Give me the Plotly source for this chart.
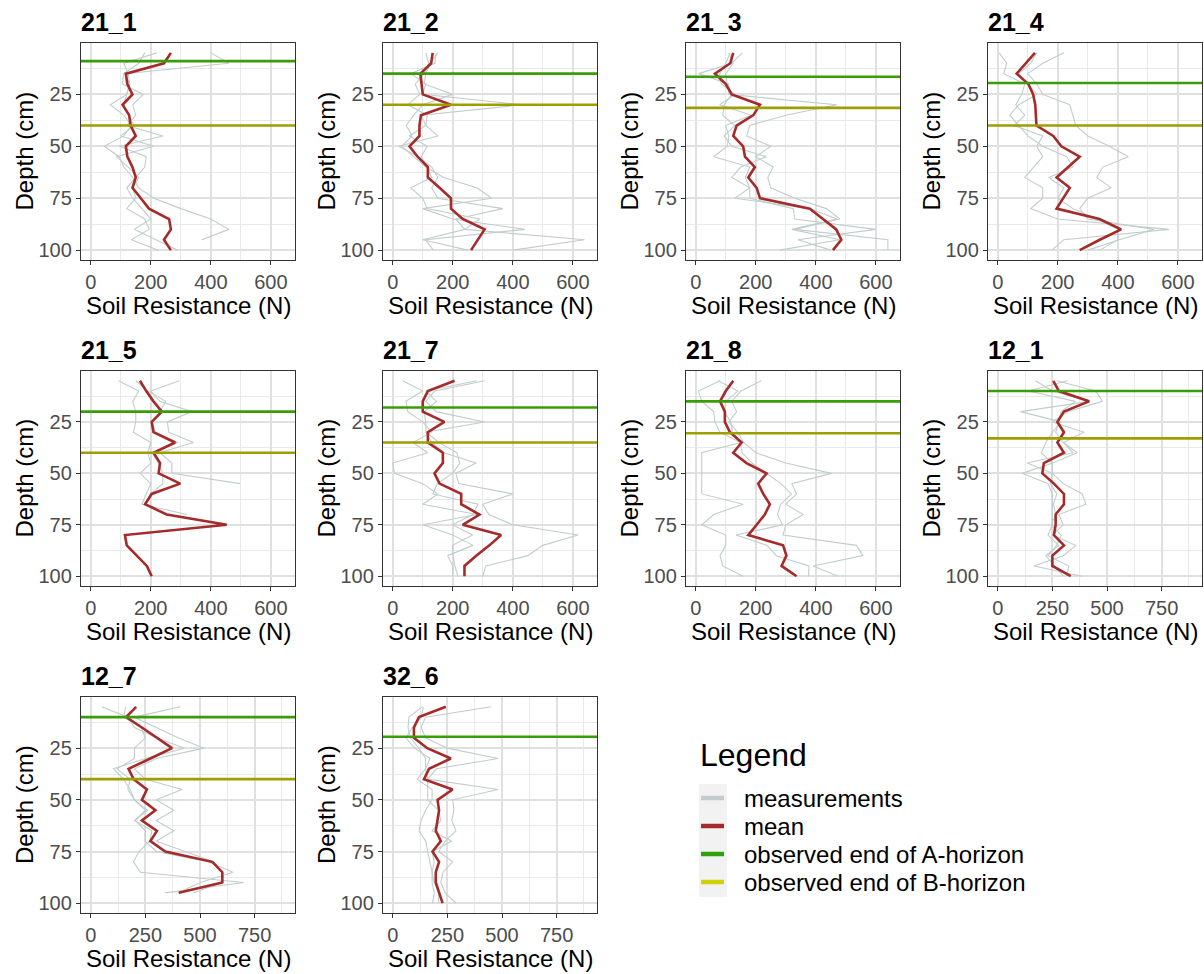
import plotly.graph_objects as go

# ---------------------------------------------------------------- data
DEPTH = [5, 10, 15, 20, 25, 30, 35, 40, 45, 50, 55, 60, 65, 70, 75, 80, 85, 90, 95, 100]

SITES = ["21_1", "21_2", "21_3", "21_4", "21_5", "21_7", "21_8", "12_1", "12_7", "32_6"]

# depth (cm) of the observed end of the A and B horizon per site
A_END = [9, 15, 16.5, 19.5, 20, 18, 15, 10, 10, 19.5]
B_END = [40, 30, 31.5, 40, 40, 35, 30.5, 33, 40, None]

# soil resistance (N) per depth step, single penetrometer runs and their mean
s21_1_runs = [
    [180, 160, 110, 105, 175, 140, 150, 120, 240, 95, 185, 180, 150, 120, 140, 170, 200, 145, 220, 290],
    [400, 460, 115, 130, 120, 65, 110, 135, 110, 45, 95, 110, 140, 160, 210, 300, 400, 460, 370],
    [220, 110, 125, 130, 120, 110, 125, 145, 100, 210, 85, 125, 160, 140, 150, 120, 180, 195, 135, 225],
]
s21_1_mean = [267, 244, 117, 122, 139, 106, 128, 133, 150, 117, 122, 139, 150, 139, 167, 194, 261, 267, 244, 267]

s21_2_runs = [
    [145, 140, 60, 110, 100, 433, 95, 110, 150, 20, 85, 130, 150, 130, 150, 367, 210, 240, 639, 400],
    [150, 125, 110, 105, 200, 100, 70, 45, 65, 30, 70, 110, 170, 280, 330, 100, 200, 440, 110, 135],
    [110, 120, 105, 75, 90, 50, 115, 110, 55, 115, 95, 115, 130, 60, 100, 115, 290, 240, 100, 250],
]
s21_2_mean = [133, 128, 92, 97, 100, 194, 94, 89, 89, 56, 83, 117, 117, 156, 194, 194, 233, 306, 283, 261]

s21_3_runs = [
    [155, 120, 10, 110, 110, 470, 300, 180, 170, 250, 200, 258, 240, 250, 330, 435, 480, 330, 640, 640],
    [110, 125, 100, 105, 120, 95, 90, 130, 95, 120, 235, 150, 120, 180, 130, 380, 470, 320, 480, 280],
    [115, 100, 80, 85, 130, 80, 185, 100, 110, 105, 60, 180, 165, 180, 180, 325, 330, 600, 340, 450],
]
s21_3_mean = [125, 115, 64, 100, 120, 214, 192, 136, 125, 158, 164, 197, 175, 203, 214, 380, 424, 468, 485, 457]

s21_4_runs = [
    [220, 150, 100, 130, 150, 240, 250, 260, 300, 372, 435, 350, 330, 378, 300, 273, 300, 520, 405, 300],
    [5, 30, 20, 90, 80, 60, 90, 55, 150, 130, 150, 120, 90, 150, 150, 110, 200, 571, 220, 180],
    [130, 110, 70, 100, 130, 70, 40, 70, 100, 150, 230, 250, 170, 220, 200, 250, 330, 400, 400, 340],
]
s21_4_mean = [124, 95, 63, 102, 118, 125, 127, 129, 185, 212, 273, 234, 196, 240, 218, 196, 339, 411, 340, 273]

s21_5_runs = [
    [295, 200, 230, 337, 255, 260, 342, 230, 270, 270, 498],
    [92, 160, 140, 150, 150, 142, 200, 190, 200, 165, 200, 185, 170, 320],
    [150, 190, 250, 230, 205, 215, 290, 205, 225, 240, 240, 200, 180, 250, 453, 114, 120, 153, 187, 203],
]
s21_5_mean = [164, 185, 209, 237, 203, 209, 281, 209, 231, 226, 298, 203, 181, 253, 453, 114, 120, 153, 187, 203]

s21_7_runs = [
    [306, 140, 110, 145, 306, 110, 130, 170, 278, 210, 220, 400, 300, 320, 400, 617, 500, 450, 310, 300],
    [33, 100, 44, 50, 100, 130, 67, 117, 0, 6, 100, 150, 100, 280, 100, 200, 267, 183, 200, 200],
    [280, 110, 146, 105, 110, 111, 154, 214, 223, 200, 148, 134, 284, 267, 199, 266, 199, 201, 207, 217],
]
s21_7_mean = [206, 117, 100, 100, 172, 117, 117, 167, 167, 139, 156, 228, 228, 289, 233, 361, 322, 278, 239, 239]

s21_8_runs = [
    [219, 150, 120, 136, 110, 140, 160, 200, 300, 452, 320, 336, 300, 358, 300, 291, 535, 557, 391, 474],
    [81, 9, 20, 60, 64, 80, 150, 20, 20, 20, 20, 20, 158, 60, 20, 100, 100, 81, 90, 158],
    [75, 140, 100, 95, 117, 122, 149, 155, 187, 236, 284, 319, 283, 272, 289, 134, 238, 268, 377, 376],
]
s21_8_mean = [125, 100, 81, 97, 97, 114, 153, 125, 169, 236, 208, 225, 247, 230, 203, 175, 291, 302, 286, 336]

s12_1_runs = [
    [270, 449, 479, 320, 250, 395, 300, 364, 250, 250, 300, 387, 403, 280, 300, 250, 357, 300, 165, 387],
    [173, 250, 420, 104, 290, 250, 220, 200, 250, 112, 230, 250, 250, 250, 250, 230, 280, 220, 260, 300],
    [320, 140, 355, 290, 280, 265, 300, 345, 135, 250, 240, 270, 255, 265, 245, 290, 270, 230, 325, 315],
]
s12_1_mean = [254, 280, 418, 303, 273, 303, 273, 303, 211, 204, 257, 303, 303, 265, 265, 257, 303, 250, 250, 334]

s12_7_runs = [
    [410, 200, 300, 400, 518, 300, 200, 250, 418, 300, 380, 300, 380, 300, 433, 560, 600, 600, 470],
    [50, 170, 200, 300, 430, 250, 104, 150, 180, 200, 250, 204, 250, 250, 300, 540, 650, 502, 400],
    [160, 150, 230, 250, 200, 200, 120, 180, 170, 200, 260, 200, 280, 270, 220, 196, 227, 700, 340],
]
s12_7_mean = [208, 162, 234, 303, 372, 273, 173, 196, 257, 234, 296, 234, 303, 273, 341, 556, 602, 602, 403]

s32_6_runs = [
    [451, 150, 130, 150, 250, 482, 200, 160, 482, 274, 280, 270, 289, 240, 210, 274, 230, 220, 240, 289],
    [135, 74, 70, 80, 120, 150, 150, 112, 180, 180, 150, 130, 120, 151, 160, 170, 180, 180, 190, 182],
    [140, 130, 90, 60, 100, 170, 150, 160, 160, 160, 210, 220, 180, 270, 180, 190, 180, 190, 210, 210],
]
s32_6_mean = [243, 120, 97, 97, 158, 266, 166, 143, 274, 205, 212, 205, 197, 220, 182, 212, 197, 197, 212, 228]

RUNS = [s21_1_runs, s21_2_runs, s21_3_runs, s21_4_runs, s21_5_runs,
        s21_7_runs, s21_8_runs, s12_1_runs, s12_7_runs, s32_6_runs]
MEANS = [s21_1_mean, s21_2_mean, s21_3_mean, s21_4_mean, s21_5_mean,
         s21_7_mean, s21_8_mean, s12_1_mean, s12_7_mean, s32_6_mean]

# x scale groups: sites 1-7 use 0..600 ticks, the last three 0..750
X_RANGE = [[-32.4, 680.4]] * 7 + [[-44.5, 934.5]] * 3
X_TICKS = [[0, 200, 400, 600]] * 7 + [[0, 250, 500, 750]] * 3
X_MINOR = [100] * 7 + [125] * 3
Y_TICKS = [25, 50, 75, 100]

LEGEND_LABELS = ["measurements", "mean", "observed end of A-horizon", "observed end of B-horizon"]

# ---------------------------------------------------------------- styling
W, H = 1204, 974
FONT = "Liberation Sans, Arial, sans-serif"
C_RUN = "#C1CDCD"
C_MEAN = "#A52A2A"
C_A = "#3A9C08"
C_B = "#9E9E00"
C_A_KEY = "#2FA10A"
C_B_KEY = "#D2D200"
GRID = "#E0E0E0"
GRID_MINOR = "#E9E9E9"
TICK_TXT = "#4D4D4D"

COL_LEFT = [81, 383, 686, 988]
ROW_TOP = [43, 371, 697]
ROW_H = [217, 215, 216]
PANEL_W = 214


def px(x):
    return x / W


def py(y):
    return 1 - y / H


fig = go.Figure()
annotations = []
shapes = []

for i, site in enumerate(SITES):
    r, c = divmod(i, 4)
    left = COL_LEFT[c]
    right = left + PANEL_W
    top = ROW_TOP[r]
    bottom = top + ROW_H[r]
    n = "" if i == 0 else str(i + 1)
    xa, ya = "x" + n, "y" + n

    for run in RUNS[i]:
        fig.add_trace(go.Scatter(
            x=run, y=DEPTH[:len(run)], mode="lines", xaxis=xa, yaxis=ya,
            line=dict(color=C_RUN, width=1.1), showlegend=False, hoverinfo="skip"))
    mean = MEANS[i]
    fig.add_trace(go.Scatter(
        x=mean, y=DEPTH[:len(mean)], mode="lines", xaxis=xa, yaxis=ya,
        line=dict(color=C_MEAN, width=2.6), showlegend=False, name="mean"))

    for depth, col in ((A_END[i], C_A), (B_END[i], C_B)):
        if depth is None:
            continue
        shapes.append(dict(type="line", xref=xa + " domain", yref=ya,
                           x0=0, x1=1, y0=depth, y1=depth,
                           line=dict(color=col, width=2.6), layer="above"))

    axis_common = dict(
        showline=True, mirror=True, linecolor="#333333", linewidth=1.4,
        ticks="outside", ticklen=4, tickwidth=1.1, tickcolor="#333333",
        tickfont=dict(family=FONT, size=20, color=TICK_TXT),
        showgrid=True, gridcolor=GRID, gridwidth=1.6, zeroline=False,
    )
    fig.layout["xaxis" + n] = dict(
        axis_common, domain=[px(left), px(right)], anchor=ya,
        range=X_RANGE[i], tickvals=X_TICKS[i],
        minor=dict(tick0=0, dtick=X_MINOR[i], showgrid=True,
                   gridcolor=GRID_MINOR, gridwidth=1.0, ticks=""),
    )
    fig.layout["yaxis" + n] = dict(
        axis_common, domain=[py(bottom), py(top)], anchor=xa,
        range=[104.75, 0.25], tickvals=Y_TICKS,
        minor=dict(tick0=0, dtick=12.5, showgrid=True,
                   gridcolor=GRID_MINOR, gridwidth=1.0, ticks=""),
    )

    annotations.append(dict(
        text="<b>" + site + "</b>", xref="paper", yref="paper",
        x=px(left - 2), y=py(top - 21), xanchor="left", yanchor="middle",
        showarrow=False, font=dict(family=FONT, size=25, color="black")))
    annotations.append(dict(
        text="Soil Resistance (N)", xref="paper", yref="paper",
        x=px((left + right) / 2), y=py(bottom + 45), xanchor="center", yanchor="middle",
        showarrow=False, font=dict(family=FONT, size=24, color="black")))
    annotations.append(dict(
        text="Depth (cm)", xref="paper", yref="paper", textangle=-90,
        x=px(left - 57), y=py((top + bottom) / 2), xanchor="center", yanchor="middle",
        showarrow=False, font=dict(family=FONT, size=24, color="black")))

# ---------------------------------------------------------------- legend
annotations.append(dict(
    text="Legend", xref="paper", yref="paper", x=px(698), y=py(755),
    xanchor="left", yanchor="middle", showarrow=False,
    font=dict(family=FONT, size=32, color="black")))
shapes.append(dict(type="rect", xref="paper", yref="paper",
                   x0=px(699), x1=px(727), y0=py(897), y1=py(784),
                   fillcolor="#F2F2F2", line=dict(width=0), layer="below"))
key_colors = [C_RUN, C_MEAN, C_A_KEY, C_B_KEY]
for k, (label, col) in enumerate(zip(LEGEND_LABELS, key_colors)):
    yk = 798 + k * 28
    shapes.append(dict(type="line", xref="paper", yref="paper",
                       x0=px(701), x1=px(724), y0=py(yk), y1=py(yk),
                       line=dict(color=col, width=4.5)))
    annotations.append(dict(
        text=label, xref="paper", yref="paper", x=px(742), y=py(yk),
        xanchor="left", yanchor="middle", showarrow=False,
        font=dict(family=FONT, size=24, color="black")))

fig.update_layout(
    width=W, height=H, margin=dict(l=0, r=0, t=0, b=0),
    paper_bgcolor="white", plot_bgcolor="white",
    showlegend=False, annotations=annotations, shapes=shapes,
    font=dict(family=FONT),
)

fig.write_html("out.html")
